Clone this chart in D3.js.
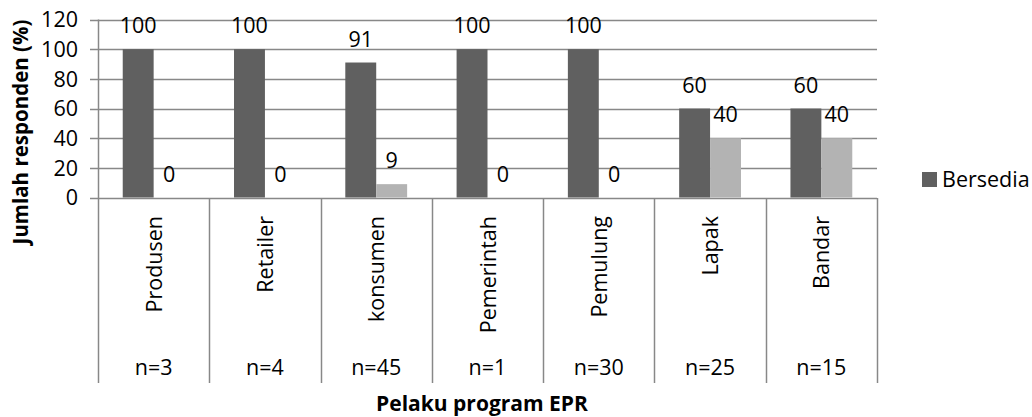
<!doctype html>
<html>
<head>
<meta charset="utf-8">
<script src="https://cdn.jsdelivr.net/npm/d3@7"></script>
<style>
  body { margin: 0; background: #fff; }
  text { font-family: "Open Sans", "Noto Sans", sans-serif; fill: #000; }
</style>
</head>
<body>
<svg width="1032" height="417"></svg>
<script>
var categories = ["Produsen", "Retailer", "konsumen", "Pemerintah", "Pemulung", "Lapak", "Bandar"];
var sampleLabels = ["n=3", "n=4", "n=45", "n=1", "n=30", "n=25", "n=15"];
var bersedia = [100, 100, 91, 100, 100, 60, 60];
var tidakBersedia = [0, 0, 9, 0, 0, 40, 40];
var seriesNames = ["Bersedia", "Tidak bersedia"];
var yTicks = [0, 20, 40, 60, 80, 100, 120];

var colors = ["#606060", "#b3b3b3"];
var gridColor = "#888888";

var svg = d3.select("svg");

var x = d3.scaleBand().domain(categories).range([98, 877]);
var xSeries = d3.scaleBand().domain(seriesNames).range([0, x.bandwidth()]).paddingOuter(0.8);
var y = d3.scaleLinear().domain([0, 120]).range([197.5, 19.5]);

// gridlines + left ticks
svg.append("g").selectAll("line")
  .data(yTicks)
  .enter().append("line")
  .attr("x1", 90).attr("x2", 877)
  .attr("y1", d => Math.round(y(d)) + 0.5).attr("y2", d => Math.round(y(d)) + 0.5)
  .style("stroke", gridColor).style("stroke-width", "1.5px");

svg.append("g").selectAll("text")
  .data(yTicks)
  .enter().append("text")
  .attr("x", 78).attr("y", d => y(d))
  .attr("dy", "0.36em")
  .attr("text-anchor", "end")
  .style("font-size", "21.5px")
  .text(d => d);

// bars
var rows = categories.map((c, i) => ({cat: c, vals: [bersedia[i], tidakBersedia[i]]}));
var groups = svg.append("g").selectAll("g")
  .data(rows)
  .enter().append("g")
  .attr("transform", d => "translate(" + x(d.cat) + ",0)");

groups.selectAll("rect")
  .data(d => d.vals.map((v, j) => ({s: seriesNames[j], v: v, j: j})))
  .enter().append("rect")
  .attr("x", d => xSeries(d.s))
  .attr("width", xSeries.bandwidth())
  .attr("y", d => y(d.v))
  .attr("height", d => y(0) - y(d.v))
  .style("fill", d => colors[d.j]);

groups.selectAll("text")
  .data(d => d.vals.map((v, j) => ({s: seriesNames[j], v: v})))
  .enter().append("text")
  .attr("x", d => xSeries(d.s) + xSeries.bandwidth() / 2)
  .attr("y", d => y(d.v) - 16)
  .attr("text-anchor", "middle")
  .style("font-size", "21.5px")
  .text(d => d.v);

// axes lines
svg.append("line")
  .attr("x1", 98.5).attr("x2", 98.5).attr("y1", y(120)).attr("y2", 198)
  .style("stroke", gridColor).style("stroke-width", "1.5px");

var bounds = categories.map(c => x(c)).concat([x.range()[1]]);
svg.append("g").selectAll("line")
  .data(bounds)
  .enter().append("line")
  .attr("x1", d => Math.round(d) + 0.5).attr("x2", d => Math.round(d) + 0.5)
  .attr("y1", 198).attr("y2", 383)
  .style("stroke", gridColor).style("stroke-width", "1.5px");

// category labels
svg.append("g").selectAll("text")
  .data(categories)
  .enter().append("text")
  .attr("transform", d => "translate(" + (x(d) + x.bandwidth() / 2 + 8) + ",216) rotate(-90)")
  .attr("text-anchor", "end")
  .style("font-size", "21.5px")
  .text(d => d);

svg.append("g").selectAll("text")
  .data(sampleLabels)
  .enter().append("text")
  .attr("x", (d, i) => x(categories[i]) + x.bandwidth() / 2)
  .attr("y", 375)
  .attr("text-anchor", "middle")
  .style("font-size", "21.5px")
  .text(d => d);

// axis titles
svg.append("text")
  .attr("x", 482).attr("y", 411)
  .attr("text-anchor", "middle")
  .style("font-size", "21px").style("font-weight", "bold")
  .text("Pelaku program EPR");

svg.append("text")
  .attr("transform", "translate(28,132) rotate(-90)")
  .attr("text-anchor", "middle")
  .style("font-size", "20.5px").style("font-weight", "bold")
  .text("Jumlah responden (%)");

// legend
svg.append("rect")
  .attr("x", 922).attr("y", 172).attr("width", 15).attr("height", 15)
  .style("fill", colors[0]);
svg.append("text")
  .attr("x", 942).attr("y", 179.5).attr("dy", "0.36em")
  .style("font-size", "21.5px")
  .text(seriesNames[0]);
</script>
</body>
</html>
